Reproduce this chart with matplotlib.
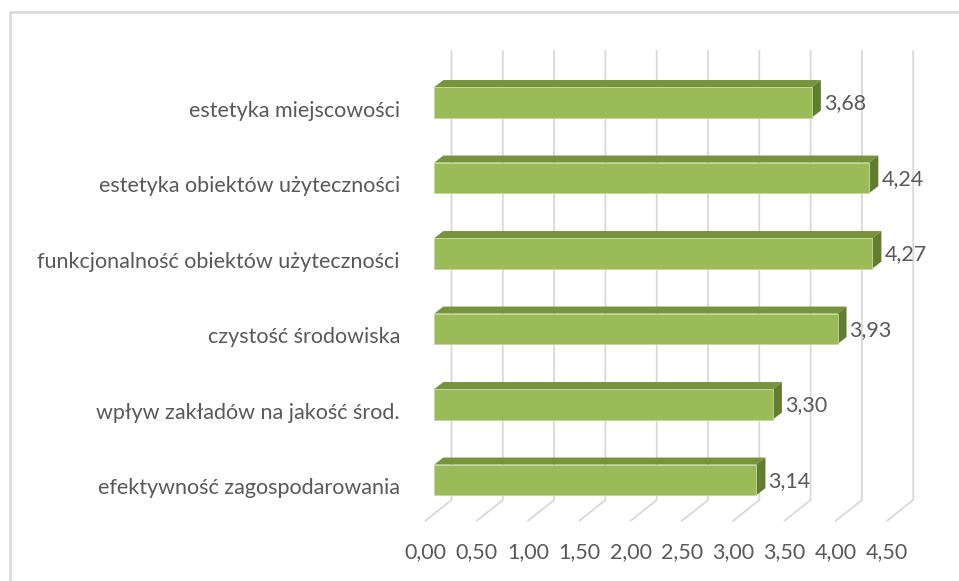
import matplotlib.pyplot as plt
import matplotlib.patches as mpatches
import numpy as np

categories = ['estetyka miejscowości',
              'estetyka obiektów użyteczności',
              'funkcjonalność obiektów użyteczności',
              'czystość środowiska',
              'wpływ zakładów na jakość środ.',
              'efektywność zagospodarowania']
values = [3.68, 4.24, 4.27, 3.93, 3.30, 3.14]
ticks = [0.0, 0.5, 1.0, 1.5, 2.0, 2.5, 3.0, 3.5, 4.0, 4.5]

W, H = 959, 581
# pixel scale of the value axis and the row spacing
KX, KY = 102.6, 75.5
X0, Y0 = 434.3, 102.3
PX, PY = 1 / KX, 1 / KY

front_col = '#9bbb59'
top_col = '#77933c'
side_col = '#627d30'
grid_col = '#d9d9d9'
text_col = '#595959'

plt.rcParams['font.family'] = ['Lato', 'DejaVu Sans']
fs = 15.5

fig = plt.figure(figsize=(W / 100, H / 100), dpi=100)
ax = fig.add_axes([0, 0, 1, 1])
ax.set_xlim(-X0 / KX, (W - X0) / KX)
ax.set_ylim((H - Y0) / KY, -Y0 / KY)
ax.axis('off')

# outer chart border (only top and left fall inside the image)
fig.add_artist(plt.Line2D([10 / W, 10 / W, 1.0], [0.0, 1 - 12 / H, 1 - 12 / H],
                          transform=fig.transFigure, color='#d9d9d9', lw=1.8))

# back wall + floor gridlines
wall_dx = 17.2 * PX
top_y = (51 - Y0) * PY
bot_y = (500 - Y0) * PY
floor_dx, floor_dy = -26 * PX, 20.7 * PY
for t in ticks:
    xb = t + wall_dx
    ax.plot([xb, xb, xb + floor_dx], [top_y, bot_y, bot_y + floor_dy],
            color=grid_col, lw=1.3, zorder=1, solid_joinstyle='miter')
    ax.text(xb + floor_dx, (551.7 - Y0) * PY, f'{t:.2f}'.replace('.', ','),
            ha='center', va='center', fontsize=fs, color=text_col)

# 3D-looking bars: front face, top face, right side face
bh = 30.5 * PY
ddx, ddy = 9 * PX, -7 * PY
for i, (cat, v) in enumerate(zip(categories, values)):
    top = i - bh / 2
    bot = i + bh / 2
    ax.add_patch(mpatches.Polygon([(0, top), (v, top), (v + ddx, top + ddy), (ddx, top + ddy)],
                                  closed=True, facecolor=top_col, edgecolor='none', zorder=3))
    ax.add_patch(mpatches.Polygon([(v, top), (v + ddx, top + ddy), (v + ddx, bot + ddy), (v, bot)],
                                  closed=True, facecolor=side_col, edgecolor='none', zorder=3))
    ax.add_patch(mpatches.Rectangle((0, top), v, bh, facecolor=front_col,
                                    edgecolor='#c4d79b', lw=0.6, zorder=4))
    ax.text(v + 12 * PX, i + 1 * PY, f'{v:.2f}'.replace('.', ','),
            ha='left', va='center', fontsize=fs, color=text_col)
    ax.text(-34.3 * PX, i + 8.5 * PY, cat, ha='right', va='center',
            fontsize=fs, color=text_col)

fig.savefig('out.png', dpi=100)
